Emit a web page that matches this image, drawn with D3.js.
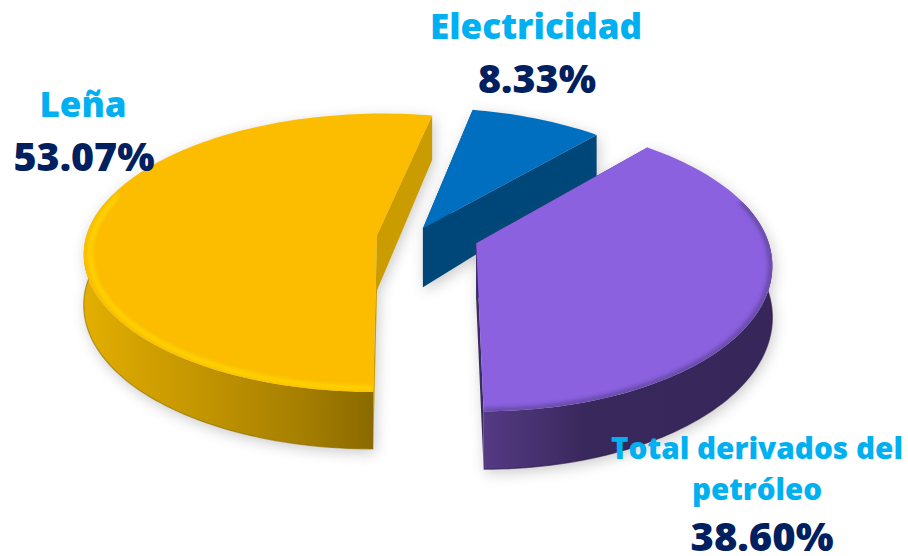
<!DOCTYPE html>
<html><head><meta charset="utf-8">
<script src="https://cdn.jsdelivr.net/npm/d3@7"></script>
<style>html,body{margin:0;padding:0;background:#fff}svg{display:block}text{font-family:"Open Sans",sans-serif;font-weight:800}</style>
</head><body><svg id="c" width="908" height="556"></svg>
<script>
const categories = ["Leña", "Electricidad", "Total derivados del petróleo"];
const shares = [53.07, 8.33, 38.60];
const valueLabels = ["53.07%", "8.33%", "38.60%"];
const topColors = ["#fcbc00", "#006fc0", "#8b61e0"];
const cutColors = ["#cb9c00", "#004779", "#3c2a63"];
const rimColors = ["#ffe000", "#006fc0", "#55408a"];

const C = {x: 427, y: 237, rx: 291, ry: 137.4, k: 0.125, depth: 50};
// exploded offset of each slice on the pie's plan, its stretch and lean toward the viewer
const explode = [[-0.172, -0.012], [-0.014, -0.065], [0.168, 0.045]];
const nearStretch = [1, 1, 1.05];
const nearLean = [0.01, 0, 0];
const apexDepths = [55, 59, 56];

const svg = d3.select("#c");
const defs = svg.append("defs");
const blur = (id, s) => defs.append("filter").attr("id", id)
  .attr("x", "-30%").attr("y", "-30%").attr("width", "160%").attr("height", "160%")
  .append("feGaussianBlur").attr("stdDeviation", s);
blur("shadow", 7); blur("rim", 2);

const grad = (id, x1, x2, stops) => {
  const g = defs.append("linearGradient").attr("id", id).attr("gradientUnits", "userSpaceOnUse")
    .attr("x1", x1).attr("x2", x2).attr("y1", 0).attr("y2", 0);
  stops.forEach(([o, c]) => g.append("stop").attr("offset", o).attr("stop-color", c));
};
grad("wall0", 85, 373, [[0, "#e2ae00"], [0.4, "#c39500"], [0.75, "#a67f00"], [1, "#8a6a00"]]);
grad("wall2", 484, 773, [[0, "#553a84"], [0.35, "#39285c"], [1, "#37265a"]]);

const project = (x, y, z) => {
  const s = 1 / (1 - C.k * y);
  return [C.x + C.rx * x * s, C.y + C.ry * y * s + z * C.depth * s];
};
const line = d3.line();
const pie = d3.pie().sort(null).startAngle(Math.PI).endAngle(3 * Math.PI);
const arcs = pie(shares);

const rimPoints = (i, z, a0, a1, r = 1) => {
  const n = Math.max(8, Math.round((a1 - a0) * 40));
  return d3.range(n + 1).map(j => {
    const a = a0 + (a1 - a0) * j / n;
    const v = -r * Math.cos(a);
    const lean = v > 0 ? v * nearLean[i] : 0;
    return project(explode[i][0] + r * Math.sin(a) + lean, explode[i][1] + (v > 0 ? v * nearStretch[i] : v), z);
  });
};
const apex = (i, low) => {
  const p = project(explode[i][0], explode[i][1], 0);
  return low ? [p[0], p[1] + apexDepths[i]] : p;
};

// part of a slice's rim that faces the viewer (past the sides, hidden by the top face)
const nearRange = d => {
  const pad = 0.1 * Math.PI;
  for (const k of [0, 2 * Math.PI]) {
    const a0 = Math.max(d.startAngle, 0.5 * Math.PI + k - pad);
    const a1 = Math.min(d.endAngle, 1.5 * Math.PI + k + pad);
    if (a1 > a0) return [a0, a1];
  }
  return null;
};

arcs.forEach((d, i) => {
  const g = svg.append("g");
  const top = rimPoints(i, 0, d.startAngle, d.endAngle);
  const bottom = rimPoints(i, 1, d.startAngle, d.endAngle);
  const A = apex(i, false), B = apex(i, true);
  const topPath = line([A, ...top]) + "Z";
  const cut = (p, q) => line([A, p, q, B]) + "Z";
  const cutEnd = cut(top[top.length - 1], bottom[bottom.length - 1]);
  const cutStart = cut(top[0], bottom[0]);
  const near = nearRange(d);
  let wallPath = null, nearLow = null;
  if (near) {
    const t = rimPoints(i, 0, near[0], near[1]);
    nearLow = rimPoints(i, 1, near[0], near[1]);
    wallPath = line([...t, ...nearLow.slice().reverse()]) + "Z";
  }

  const sh = g.append("g").attr("filter", "url(#shadow)").attr("opacity", 0.3)
    .attr("transform", "translate(2,4)");
  [topPath, wallPath, cutStart, cutEnd].filter(Boolean)
    .forEach(p => sh.append("path").attr("d", p).attr("fill", "#555"));

  g.append("path").attr("d", cutEnd).attr("fill", cutColors[i]);
  g.append("path").attr("d", cutStart).attr("fill", cutColors[i]);
  if (wallPath) {
    g.append("path").attr("d", wallPath).attr("fill", `url(#wall${i})`);
    g.append("path").attr("d", line(nearLow)).attr("fill", "none")
      .attr("stroke", d3.color(cutColors[i]).darker(1)).attr("stroke-width", 1.2).attr("opacity", 0.6);
  }
  g.append("path").attr("d", topPath).attr("fill", topColors[i]);

  if (near) {
    const clipId = "clip" + i;
    defs.append("clipPath").attr("id", clipId).append("path").attr("d", topPath);
    g.append("g").attr("clip-path", `url(#${clipId})`).append("path")
      .attr("d", line(rimPoints(i, 0, near[0], near[1], i === 0 ? 0.978 : 0.995)))
      .attr("fill", "none").attr("stroke", rimColors[i]).attr("opacity", 0.85)
      .attr("stroke-width", 4).attr("filter", "url(#rim)");
  }
});

const cyan = "#00b0f0", navy = "#002060";
const label = (t, x, y, size, fill, len) => svg.append("text").text(t).attr("x", x).attr("y", y)
  .attr("text-anchor", "middle").attr("font-size", size).attr("fill", fill)
  .attr("textLength", len).attr("lengthAdjust", "spacingAndGlyphs");

label(categories[1], 536, 39, 35, cyan, 212);
label(valueLabels[1], 537, 93, 39, navy, 118);
label(categories[0], 83, 117, 35, cyan, 87);
label(valueLabels[0], 84, 171, 39, navy, 141);
label("Total derivados del", 757, 459, 30, cyan, 292);
label("petróleo", 757, 500, 30, cyan, 130);
label(valueLabels[2], 762, 551, 39, navy, 143);
</script></body></html>
